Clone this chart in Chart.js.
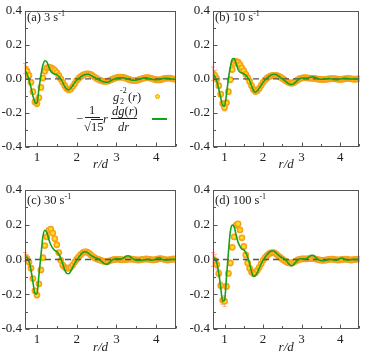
<!DOCTYPE html>
<html><head><meta charset="utf-8">
<script src="https://cdn.jsdelivr.net/npm/chart.js@4.4.0/dist/chart.umd.min.js"></script>
<style>
html,body{margin:0;padding:0;background:#fff;}
#wrap{position:relative;width:365px;height:358px;overflow:hidden;font-family:"Liberation Serif","Times New Roman",serif;color:#222;}
canvas{position:absolute;}
.t{position:absolute;white-space:nowrap;line-height:1;font-size:12.5px;}
.s{font-size:8px;position:absolute;line-height:1;}
.bar{position:absolute;height:1px;background:#222;}
</style></head><body><div id="wrap">
<canvas id="ca" width="182" height="175" style="left:0;top:0;width:182px;height:175px"></canvas>
<canvas id="cb" width="183" height="175" style="left:182px;top:0;width:183px;height:175px"></canvas>
<canvas id="cc" width="182" height="183" style="left:0;top:175px;width:182px;height:183px"></canvas>
<canvas id="cd" width="183" height="183" style="left:182px;top:175px;width:183px;height:183px"></canvas>

<div class="t" style="left:27px;top:10px">(a) 3 s<sup style="font-size:8px;vertical-align:5px">-1</sup></div>
<div class="t" style="left:215px;top:10px">(b) 10 s<sup style="font-size:8px;vertical-align:5px">-1</sup></div>
<div class="t" style="left:27px;top:193px">(c) 30 s<sup style="font-size:8px;vertical-align:5px">-1</sup></div>
<div class="t" style="left:215px;top:193px">(d) 100 s<sup style="font-size:8px;vertical-align:5px">-1</sup></div>

<!-- legend -->
<div class="t" style="left:113px;top:91px"><i>g</i></div>
<div class="s" style="left:120px;top:87px">-2</div>
<div class="s" style="left:120px;top:98px">2</div>
<div class="t" style="left:128px;top:91px">(<i>r</i>)</div>
<div style="position:absolute;left:155px;top:94px;width:3px;height:3px;border-radius:50%;background:#ffe11a;border:1.6px solid #f7a21b"></div>
<div class="t" style="left:76px;top:113px">&minus;</div>
<div class="t" style="left:89px;top:104px">1</div>
<div class="bar" style="left:85px;top:117px;width:15px"></div>
<div class="t" style="left:84px;top:121px">&radic;<span style="border-top:1px solid #222">15</span></div>
<div class="t" style="left:103px;top:113px"><i>r</i></div>
<div class="t" style="left:112px;top:105px"><i>dg</i>(<i>r</i>)</div>
<div class="bar" style="left:111px;top:118px;width:26px"></div>
<div class="t" style="left:118px;top:121px"><i>dr</i></div>
<div style="position:absolute;left:152px;top:118px;width:15px;height:2px;background:#19a019"></div>
</div>
<script>
const R = [0.70,0.75,0.80,0.85,0.90,0.95,1.00,1.05,1.10,1.15,1.20,1.25,1.30,1.35,1.40,1.45,1.50,1.55,1.60,1.65,1.70,1.75,1.80,1.85,1.90,1.95,2.00,2.05,2.10,2.15,2.20,2.25,2.30,2.35,2.40,2.45,2.50,2.55,2.60,2.65,2.70,2.75,2.80,2.85,2.90,2.95,3.00,3.05,3.10,3.15,3.20,3.25,3.30,3.35,3.40,3.45,3.50,3.55,3.60,3.65,3.70,3.75,3.80,3.85,3.90,3.95,4.00,4.05,4.10,4.15,4.20,4.25,4.30,4.35,4.40,4.45,4.50];
const xTicks = [1,2,3,4];
const xMinor = [1.5,2.5,3.5,4.5];
const yTicks = [-0.4,-0.2,0.0,0.2,0.4];
const yMinor = [-0.3,-0.1,0.1,0.3];

const greenA = [0.05,0.03,-0.005,-0.05,-0.10,-0.138,-0.145,-0.06,0.02,0.08,0.107,0.10,0.07,0.045,0.033,0.028,0.025,0.015,0.0,-0.02,-0.045,-0.06,-0.065,-0.055,-0.04,-0.022,-0.008,0.003,0.012,0.02,0.025,0.027,0.027,0.022,0.015,0.008,0.002,-0.004,-0.01,-0.015,-0.018,-0.02,-0.018,-0.012,-0.005,0.0,0.004,0.006,0.007,0.007,0.005,0.002,-0.002,-0.005,-0.007,-0.008,-0.007,-0.004,0.0,0.004,0.006,0.006,0.004,0.001,-0.002,-0.004,-0.005,-0.004,-0.002,0.001,0.003,0.004,0.003,0.001,-0.001,-0.002,-0.002];
const dotsA = [0.06,0.045,0.02,-0.02,-0.075,-0.135,-0.145,-0.11,-0.05,0.005,0.045,0.065,0.069,0.066,0.06,0.05,0.037,0.02,0.0,-0.02,-0.04,-0.057,-0.065,-0.06,-0.045,-0.028,-0.01,0.003,0.013,0.021,0.027,0.03,0.03,0.026,0.019,0.011,0.003,-0.004,-0.009,-0.013,-0.015,-0.015,-0.012,-0.007,-0.002,0.003,0.007,0.01,0.011,0.01,0.007,0.003,-0.002,-0.006,-0.009,-0.01,-0.009,-0.006,-0.002,0.002,0.005,0.007,0.007,0.005,0.002,-0.002,-0.005,-0.006,-0.005,-0.002,0.001,0.004,0.005,0.004,0.002,-0.001,-0.002];
const errA = [0.03,0.025,0.02,0.015,0.012,0.015,0.018,0.01];

const greenB = [0.03,0.015,-0.015,-0.06,-0.11,-0.155,-0.16,-0.09,0.0,0.07,0.115,0.12,0.09,0.055,0.04,0.035,0.03,0.022,0.008,-0.01,-0.04,-0.068,-0.078,-0.07,-0.055,-0.037,-0.02,-0.006,0.005,0.014,0.021,0.026,0.027,0.024,0.017,0.008,0.0,-0.008,-0.017,-0.026,-0.032,-0.033,-0.028,-0.018,-0.007,0.001,0.005,0.005,0.004,0.005,0.008,0.011,0.012,0.009,0.004,0.0,-0.002,-0.002,-0.001,0.001,0.002,0.001,-0.001,-0.003,-0.004,-0.003,-0.001,0.001,0.003,0.003,0.002,0.0,-0.001,-0.001,0.0,0.001,0.001];
const dotsB = [0.03,0.02,0.0,-0.04,-0.09,-0.145,-0.168,-0.14,-0.075,-0.005,0.055,0.092,0.103,0.098,0.083,0.065,0.047,0.028,0.008,-0.015,-0.04,-0.062,-0.074,-0.07,-0.056,-0.038,-0.02,-0.006,0.005,0.012,0.017,0.02,0.021,0.02,0.016,0.01,0.003,-0.005,-0.013,-0.02,-0.024,-0.025,-0.021,-0.014,-0.006,0.001,0.005,0.007,0.007,0.006,0.005,0.004,0.003,0.002,0.0,-0.002,-0.003,-0.004,-0.003,-0.002,0.0,0.001,0.002,0.001,0.0,-0.002,-0.003,-0.002,0.0,0.002,0.003,0.002,0.0,-0.002,-0.002,0.0,0.001];
const errB = [0.04,0.03,0.02,0.015,0.012,0.015,0.02,0.012];

const greenC = [0.015,0.012,-0.01,-0.06,-0.13,-0.195,-0.20,-0.09,0.02,0.13,0.168,0.155,0.115,0.085,0.065,0.052,0.045,0.03,0.008,-0.025,-0.06,-0.08,-0.082,-0.068,-0.045,-0.022,-0.005,0.012,0.028,0.04,0.045,0.043,0.035,0.025,0.018,0.012,0.008,0.003,-0.005,-0.015,-0.024,-0.028,-0.023,-0.012,-0.002,0.003,0.005,0.004,0.003,0.005,0.012,0.02,0.022,0.016,0.007,0.0,-0.004,-0.005,-0.005,-0.004,-0.002,0.0,0.0,-0.002,-0.004,-0.002,0.004,0.01,0.008,0.002,-0.002,-0.003,-0.002,0.0,0.001,0.001,0.0];
const dotsC = [0.015,0.005,-0.015,-0.05,-0.11,-0.18,-0.205,-0.14,-0.06,0.01,0.08,0.13,0.168,0.175,0.152,0.12,0.085,0.04,-0.005,-0.033,-0.045,-0.05,-0.05,-0.045,-0.032,-0.015,0.0,0.015,0.028,0.038,0.044,0.044,0.038,0.028,0.018,0.01,0.004,0.0,-0.004,-0.008,-0.011,-0.012,-0.01,-0.006,-0.002,0.0,0.001,0.001,0.0,-0.002,-0.002,0.0,0.002,0.003,0.002,0.0,-0.002,-0.003,-0.002,0.0,0.002,0.003,0.002,0.0,-0.002,-0.002,0.0,0.003,0.005,0.004,0.001,-0.002,-0.003,-0.001,0.002,0.003,0.002];
const errC = [0.025,0.02,0.015,0.012,0.01,0.012,0.015,0.01];

const greenD = [0.008,0.005,-0.02,-0.08,-0.16,-0.24,-0.235,-0.10,0.04,0.16,0.198,0.19,0.14,0.10,0.075,0.06,0.055,0.04,0.015,-0.025,-0.07,-0.097,-0.093,-0.075,-0.05,-0.025,-0.005,0.012,0.028,0.04,0.048,0.05,0.045,0.035,0.025,0.016,0.01,0.004,-0.006,-0.02,-0.032,-0.036,-0.028,-0.014,-0.003,0.003,0.004,0.003,0.003,0.008,0.017,0.024,0.024,0.015,0.005,-0.002,-0.006,-0.007,-0.006,-0.003,0.0,0.001,0.0,-0.003,-0.004,0.0,0.006,0.008,0.004,-0.001,-0.003,-0.002,0.0,0.001,0.0,-0.001,0.0];
const dotsD = [0.0,-0.005,-0.03,-0.08,-0.15,-0.235,-0.24,-0.155,-0.08,-0.02,0.07,0.13,0.198,0.205,0.17,0.125,0.075,0.026,-0.02,-0.05,-0.072,-0.08,-0.076,-0.063,-0.045,-0.025,-0.005,0.01,0.022,0.032,0.038,0.04,0.038,0.03,0.02,0.01,0.002,-0.006,-0.013,-0.018,-0.02,-0.019,-0.015,-0.009,-0.003,0.001,0.003,0.004,0.004,0.004,0.005,0.006,0.006,0.004,0.001,-0.002,-0.004,-0.005,-0.004,-0.002,0.0,0.002,0.002,0.0,-0.002,-0.003,-0.002,0.0,0.002,0.002,0.0,-0.002,-0.003,-0.001,0.001,0.002,0.001];
const errD = [0.04,0.035,0.025,0.02,0.02,0.025,0.03,0.015];

const FONT = "'Liberation Serif','Times New Roman',serif";
const INK = '#222';

function makePanel(id, green, dots, err, d) {
  const pts = a => a.map((v, i) => ({x: R[i], y: v}));
  const deco = {
    id: 'deco' + id,
    beforeDatasetsDraw(chart) {
      const {ctx, scales: {x, y}} = chart;
      ctx.save();
      ctx.strokeStyle = '#f3aaa6';
      ctx.lineWidth = 1;
      err.forEach((e, i) => {
        const px = x.getPixelForValue(R[i]);
        const y1 = y.getPixelForValue(dots[i] + e), y2 = y.getPixelForValue(dots[i] - e);
        ctx.beginPath();
        ctx.moveTo(px, y1); ctx.lineTo(px, y2);
        ctx.moveTo(px - 2, y1); ctx.lineTo(px + 2, y1);
        ctx.moveTo(px - 2, y2); ctx.lineTo(px + 2, y2);
        ctx.stroke();
      });
      ctx.restore();
    },
    afterDraw(chart) {
      const {ctx, chartArea: a, scales: {x, y}} = chart;
      ctx.save();
      ctx.strokeStyle = '#555';
      ctx.lineWidth = 1;
      ctx.strokeRect(Math.round(a.left) + 0.5, Math.round(a.top) + 0.5, Math.round(a.right - a.left) - 1, Math.round(a.bottom - a.top) - 1);
      ctx.beginPath();
      const L = Math.round(a.left) + 0.5, B = Math.round(a.bottom) - 0.5;
      yTicks.forEach(v => { const p = Math.round(y.getPixelForValue(v)) + 0.5; ctx.moveTo(L, p); ctx.lineTo(L + 4, p); });
      yMinor.forEach(v => { const p = Math.round(y.getPixelForValue(v)) + 0.5; ctx.moveTo(L, p); ctx.lineTo(L + 2.5, p); });
      xTicks.forEach(v => { const p = Math.round(x.getPixelForValue(v)) + 0.5; ctx.moveTo(p, B); ctx.lineTo(p, B - 4); });
      xMinor.forEach(v => { const p = Math.round(x.getPixelForValue(v)) + 0.5; ctx.moveTo(p, B); ctx.lineTo(p, B - 2.5); });
      ctx.stroke();
      ctx.restore();
    }
  };
  new Chart(document.getElementById(id), {
    type: 'line',
    data: {
      datasets: [
        {data: pts(green), borderColor: '#19a019', borderWidth: 1.6, pointRadius: 0, cubicInterpolationMode: 'monotone', order: 0},
        {data: [{x: 0.7, y: 0}, {x: 4.5, y: 0}], borderColor: '#555', borderWidth: 1.3, borderDash: [6, 4], pointRadius: 0, order: 1},
        {data: pts(dots), showLine: false, pointRadius: 2.6, pointBorderWidth: 1.6, pointBackgroundColor: '#ffe11a', pointBorderColor: '#f7a21b', order: 2}
      ]
    },
    options: {
      responsive: false, animation: false, events: [],
      layout: {padding: {left: 0, top: d.top, right: d.right, bottom: 0}},
      plugins: {legend: {display: false}, tooltip: {enabled: false}},
      scales: {
        x: {
          type: 'linear', min: 0.7, max: 4.5,
          afterBuildTicks: s => { s.ticks = xTicks.map(v => ({value: v})); },
          afterFit: s => { s.height = d.xh; },
          grid: {display: false, drawTicks: false}, border: {display: false},
          ticks: {font: {family: FONT, size: 13}, color: INK, padding: 3, maxRotation: 0, autoSkip: false, callback: v => String(v)},
          title: {display: true, text: 'r/d', color: INK, font: {family: FONT, size: 13, style: 'italic'}, padding: {top: 0, bottom: 3}}
        },
        y: {
          type: 'linear', min: -0.4, max: 0.4,
          afterBuildTicks: s => { s.ticks = yTicks.map(v => ({value: v})); },
          afterFit: s => { s.width = d.yw; },
          grid: {display: false, drawTicks: false}, border: {display: false},
          ticks: {font: {family: FONT, size: 13}, color: INK, padding: 3, autoSkip: false, callback: v => v.toFixed(1)}
        }
      }
    },
    plugins: [deco]
  });
}

makePanel('ca', greenA, dotsA, errA, {top: 7, right: 6, yw: 25, xh: 28});
makePanel('cb', greenB, dotsB, errB, {top: 7, right: 2, yw: 31, xh: 28});
makePanel('cc', greenC, dotsC, errC, {top: 15, right: 6, yw: 25, xh: 29});
makePanel('cd', greenD, dotsD, errD, {top: 15, right: 2, yw: 31, xh: 29});
</script></body></html>
